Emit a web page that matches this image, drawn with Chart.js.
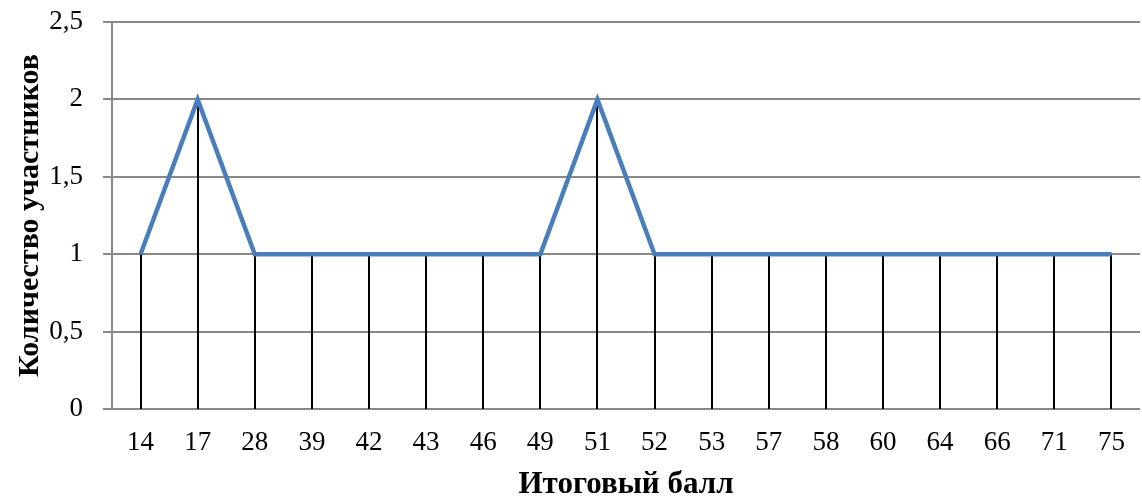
<!DOCTYPE html>
<html><head><meta charset="utf-8">
<script src="https://cdn.jsdelivr.net/npm/chart.js@4"></script>
<style>html,body{margin:0;padding:0;background:#fff}#w{width:1142px;height:499px}</style>
</head><body><div id="w"><canvas id="c"></canvas></div>
<script>
const categories = ['14','17','28','39','42','43','46','49','51','52','53','57','58','60','64','66','71','75'];
const participants = [1,2,1,1,1,1,1,1,2,1,1,1,1,1,1,1,1,1];
const yTicks = [0,0.5,1,1.5,2,2.5];

const dropLines = {
  id:'dropLines',
  beforeDatasetsDraw(chart){
    const ctx = chart.ctx, y0 = chart.scales.y.getPixelForValue(0);
    const meta = chart.getDatasetMeta(0);
    ctx.save(); ctx.strokeStyle='#000'; ctx.lineWidth=2;
    meta.data.forEach(p=>{ ctx.beginPath(); ctx.moveTo(Math.round(p.x),p.y); ctx.lineTo(Math.round(p.x),y0); ctx.stroke(); });
    ctx.restore();
  }
};

new Chart(document.getElementById('c'),{
  type:'line',
  data:{labels:categories,datasets:[{data:participants,borderColor:'#4A7EBB',borderWidth:4.5,pointRadius:0,tension:0,fill:false}]},
  plugins:[dropLines],
  options:{
    responsive:true,maintainAspectRatio:false,animation:false,
    layout:{padding:{top:22,right:2,left:12,bottom:0}},
    plugins:{legend:{display:false},tooltip:{enabled:false}},
    scales:{
      x:{offset:true,grid:{display:false},border:{display:false},
         afterFit(s){s.height=90;s.paddingLeft=0;s.paddingRight=0;},
         ticks:{color:'#000',font:{family:'Liberation Serif',size:27},padding:10,maxRotation:0,autoSkip:false},
         title:{display:true,text:'Итоговый балл',color:'#000',font:{family:'Liberation Serif',size:31,weight:'bold',lineHeight:0.9},padding:{top:0,bottom:0}}},
      y:{min:0,max:2.5,afterBuildTicks(s){s.ticks=yTicks.map(v=>({value:v}));},
         afterFit(s){s.width=100;s.paddingTop=0;s.paddingBottom=0;},
         grid:{color:'#888',lineWidth:2,tickLength:9},border:{display:true,color:'#888',width:2},
         ticks:{color:'#000',font:{family:'Liberation Serif',size:27,lineHeight:0.9},padding:20,callback:v=>String(v).replace('.',',')},
         title:{display:true,text:'Количество участников',color:'#000',font:{family:'Liberation Serif',size:30,weight:'bold'},padding:{top:0,bottom:0}}}
    }
  }
});
</script></body></html>
